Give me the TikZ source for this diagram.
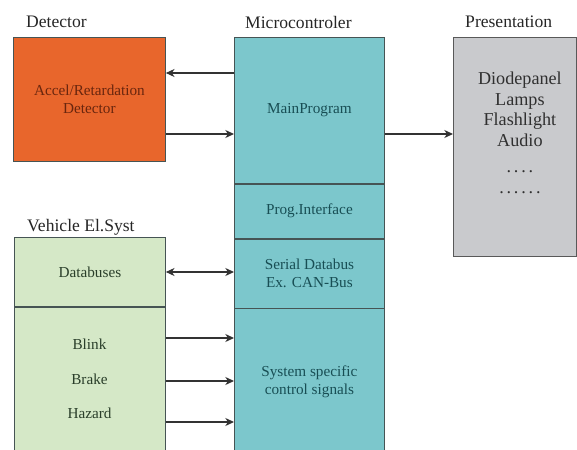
\documentclass[tikz,border=0pt]{standalone}
\usepackage{fontspec}
\setmainfont{Liberation Serif}
\usetikzlibrary{arrows.meta,positioning}
\definecolor{detfill}{RGB}{232,102,44}
\definecolor{detink}{RGB}{105,38,14}
\definecolor{mcfill}{RGB}{124,199,204}
\definecolor{mcink}{RGB}{24,78,84}
\definecolor{vsfill}{RGB}{213,232,199}
\definecolor{vsink}{RGB}{42,62,42}
\definecolor{prfill}{RGB}{201,202,205}
\definecolor{prink}{RGB}{48,48,48}
\definecolor{edge}{RGB}{70,84,84}
\newcommand{\dotrow}[1]{\foreach \d in {1,...,#1}{.\hspace{2.4pt}}\unskip}
\tikzset{
  >={Stealth[length=2.6mm,width=2.4mm,inset=0.8mm]},
  blk/.style   ={draw=edge, line width=0.7pt, rectangle, inner sep=0pt, anchor=north west, align=center,
                 font=\fontsize{13}{15}\selectfont},
  detbox/.style={blk, fill=detfill, text=detink},
  mcbox/.style ={blk, fill=mcfill, text=mcink},
  vsbox/.style ={blk, fill=vsfill, text=vsink},
  prbox/.style ={blk, fill=prfill, draw=gray!70!black},
  lbl/.style   ={font=\fontsize{15}{17}\selectfont, text=black!85, anchor=west, inner sep=0pt},
  sigtxt/.style={font=\fontsize{13}{15}\selectfont, text=vsink, inner sep=0pt},
  conn/.style  ={->, line width=1pt, draw=black!80}
}

\begin{document}
\begin{tikzpicture}[x=0.03cm, y=-0.03cm]
\useasboundingbox (0,0) rectangle (577,450);
\clip (0,0) rectangle (577,450);

% microcontroller column
\node[mcbox, minimum width=4.5cm, minimum height=4.38cm] (main)   at (234,37) {MainProgram};
\node[mcbox, minimum width=4.5cm, minimum height=1.62cm] (iface)  at (main.south west) {Prog.Interface};
\node[mcbox, minimum width=4.5cm, minimum height=2.07cm] (serial) at (iface.south west) {Serial Databus\\Ex. CAN-Bus};
\node[mcbox, minimum width=4.5cm, minimum height=4.38cm] (sig)    at (serial.south west) {System specific\\control signals};

% detector
\node[detbox, minimum width=4.56cm, minimum height=3.72cm] (det) at (13,37) {Accel/Retardation\\Detector};

% vehicle electrical system
\node[vsbox, minimum width=4.53cm, minimum height=2.07cm] (vdb)  at (14,237) {Databuses};
\node[vsbox, minimum width=4.53cm, minimum height=4.38cm] (vsig) at (vdb.south west) {};
\node[sigtxt] (blink)  at (89.5,344) {Blink};
\node[sigtxt] (brake)  at (89.5,379) {Brake};
\node[sigtxt] (hazard) at (89.5,413) {Hazard};

% presentation
\node[prbox, minimum width=3.69cm, minimum height=6.57cm] (pres) at (453,37) {};
\node[font=\fontsize{15.5}{17.5}\selectfont, text=prink, align=center, inner sep=0pt,
      below=1.05cm of pres.north, xshift=0.15cm] (prtext)
  {Diodepanel\\Lamps\\Flashlight\\Audio\\[5pt]\dotrow{4}\\\dotrow{6}};

% headings
\node[lbl] (detlbl)  at (26,22)  {Detector};
\node[lbl] (mclbl)   at (245,22) {Microcontroler};
\node[lbl] (prlbl)   at (465,22) {Presentation};
\node[lbl] (vslbl)   at (27,227) {Vehicle El.Syst};

% connections
\coordinate (y1) at (0,73);
\coordinate (y2) at (0,134);
\coordinate (y3) at (0,272);
\coordinate (y4) at (0,338);
\coordinate (y5) at (0,381);
\coordinate (y6) at (0,422);
\draw[conn] (main.west |- y1) -- (det.east |- y1);
\draw[conn] (det.east |- y2) -- (main.west |- y2);
\draw[conn] (main.east |- y2) -- (pres.west |- y2);
\draw[conn, <->] (vdb.east |- y3) -- (serial.west |- y3);
\draw[conn] (vsig.east |- y4) -- (sig.west |- y4);
\draw[conn] (vsig.east |- y5) -- (sig.west |- y5);
\draw[conn] (vsig.east |- y6) -- (sig.west |- y6);
\end{tikzpicture}
\end{document}
